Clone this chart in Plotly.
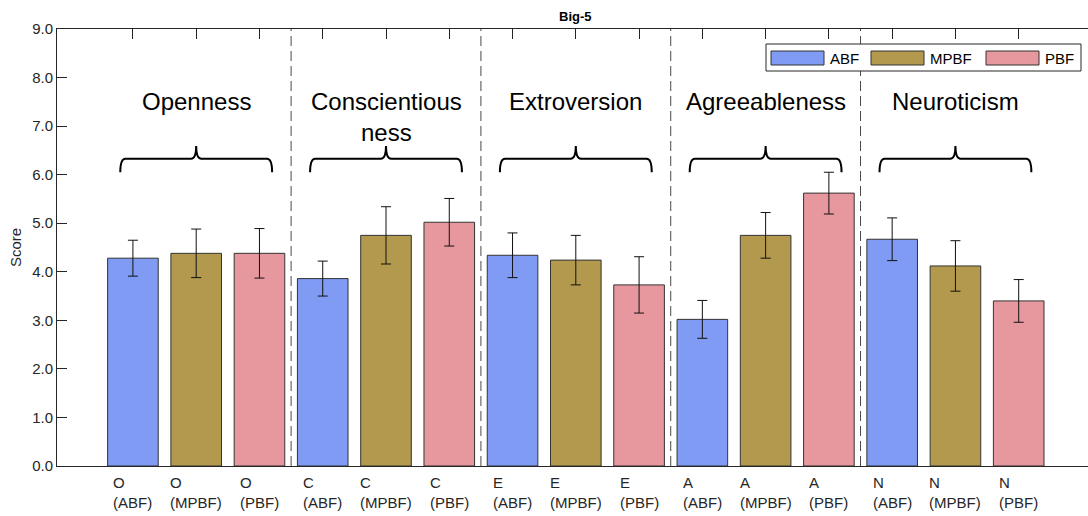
import plotly.graph_objects as go

# ---------------- data ----------------
trait_titles = ["Openness", "Conscientious<br>ness", "Extroversion", "Agreeableness", "Neuroticism"]
trait_codes = ["O", "C", "E", "A", "N"]
conditions = ["ABF", "MPBF", "PBF"]

abf_mean = [4.28, 3.86, 4.34, 3.02, 4.67]
abf_err = [0.37, 0.36, 0.46, 0.39, 0.44]
mpbf_mean = [4.38, 4.75, 4.24, 4.75, 4.12]
mpbf_err = [0.50, 0.59, 0.51, 0.47, 0.52]
pbf_mean = [4.38, 5.02, 3.73, 5.62, 3.40]
pbf_err = [0.51, 0.49, 0.58, 0.43, 0.44]

y_ticks = [0, 1, 2, 3, 4, 5, 6, 7, 8, 9]
y_tick_text = ["0.0", "1.0", "2.0", "3.0", "4.0", "5.0", "6.0", "7.0", "8.0", "9.0"]

# ---------------- styling ----------------
colors = {"ABF": "#7f9bf3", "MPBF": "#b2994d", "PBF": "#e6989e"}
W, H = 1088, 516
ML, MR, MT, MB = 57, 0, 29, 50
PW, PH = W - ML - MR, H - MT - MB
FONT = "Liberation Sans, Arial, Helvetica, sans-serif"
TXT = "#262626"

n_groups = len(trait_codes)
n_cond = len(conditions)
series = {"ABF": (abf_mean, abf_err), "MPBF": (mpbf_mean, mpbf_err), "PBF": (pbf_mean, pbf_err)}

X_MIN = -0.2
UNIT_PX = 63.27
X_MAX = X_MIN + PW / UNIT_PX


def pos(g, c):
    return g * n_cond + c + 1


def px_x(px):
    return (px - ML) / PW


def px_y(py):
    return (H - MB - py) / PH


fig = go.Figure()
for ci, cond in enumerate(conditions):
    m, e = series[cond]
    fig.add_trace(go.Bar(
        x=[pos(g, ci) for g in range(n_groups)],
        y=m,
        width=0.8,
        name=cond,
        marker=dict(color=colors[cond], line=dict(color="#333333", width=1)),
        error_y=dict(type="data", array=e, visible=True, color="#111111",
                     thickness=1, width=5),
        showlegend=False,
    ))

shapes = []
annotations = []

# dashed separators between groups
for g in range(1, n_groups):
    xs = pos(g, 0) - 0.5
    shapes.append(dict(type="line", xref="x", yref="paper", x0=xs, x1=xs, y0=0, y1=1,
                       line=dict(color="#4a4a4a", width=1, dash="10px,5px"), layer="above"))

# braces + group titles
Y_TIP, Y_LINE, Y_PEAK = 6.05, 6.33, 6.59
HALF, R = 1.2, 0.08
for g in range(n_groups):
    xc = pos(g, 1)
    x0, x1 = xc - HALF, xc + HALF
    path = (f"M {x0},{Y_TIP} Q {x0},{Y_LINE} {x0 + R},{Y_LINE} "
            f"L {xc - R},{Y_LINE} Q {xc},{Y_LINE} {xc},{Y_PEAK} "
            f"Q {xc},{Y_LINE} {xc + R},{Y_LINE} "
            f"L {x1 - R},{Y_LINE} Q {x1},{Y_LINE} {x1},{Y_TIP}")
    shapes.append(dict(type="path", xref="x", yref="y", path=path,
                       line=dict(color="black", width=2), layer="above"))
    nlines = trait_titles[g].count("<br>") + 1
    annotations.append(dict(x=xc, y=7.5, xref="x", yref="y", text=trait_titles[g],
                            showarrow=False, yanchor="middle", xanchor="center",
                            yshift=-15 * (nlines - 1),
                            font=dict(size=24, color="black", family=FONT)))

# x category labels (left-aligned two-line labels)
for g in range(n_groups):
    for ci, cond in enumerate(conditions):
        annotations.append(dict(x=pos(g, ci), y=0, xref="x", yref="paper",
                                text=f"{trait_codes[g]}<br>({cond})", align="left",
                                showarrow=False, xanchor="center", yanchor="top", yshift=-6,
                                font=dict(size=15, color=TXT, family=FONT)))

# title
annotations.append(dict(x=(X_MIN + 16.2) / 2, y=1, xref="x", yref="paper", text="<b>Big-5</b>",
                        showarrow=False, xanchor="center", yanchor="bottom", yshift=3,
                        font=dict(size=13, color="black", family=FONT)))

# custom legend box
lg_x0, lg_x1, lg_y0, lg_y1 = 766, 1081, 44, 71
shapes.append(dict(type="rect", xref="paper", yref="paper",
                   x0=px_x(lg_x0), x1=px_x(lg_x1), y0=px_y(lg_y1), y1=px_y(lg_y0),
                   line=dict(color="#262626", width=1), fillcolor="white", layer="above"))
item_starts = [771, 871, 986]
for cond, sx in zip(conditions, item_starts):
    shapes.append(dict(type="rect", xref="paper", yref="paper",
                       x0=px_x(sx), x1=px_x(sx + 53), y0=px_y(65), y1=px_y(51),
                       line=dict(color="#333333", width=1), fillcolor=colors[cond], layer="above"))
    annotations.append(dict(x=px_x(sx + 57), y=px_y(58), xref="paper", yref="paper",
                            text=cond, showarrow=False, xanchor="left", yanchor="middle",
                            font=dict(size=15, color="black", family=FONT)))

fig.update_layout(
    width=W, height=H,
    margin=dict(l=ML, r=MR, t=MT, b=MB, pad=0),
    plot_bgcolor="white", paper_bgcolor="white",
    barmode="overlay",
    showlegend=False,
    font=dict(family=FONT, color=TXT, size=15),
    shapes=shapes,
    annotations=annotations,
    xaxis=dict(range=[X_MIN, X_MAX], tickvals=[pos(g, c) for g in range(n_groups) for c in range(n_cond)],
               ticktext=[""] * (n_groups * n_cond), ticks="inside", ticklen=10, tickcolor=TXT,
               showline=True, linecolor=TXT, linewidth=1, mirror="ticks",
               showgrid=False, zeroline=False, layer="below traces"),
    yaxis=dict(range=[0, 9], tickvals=y_ticks, ticktext=y_tick_text, ticks="inside", ticklen=10,
               tickcolor=TXT, showline=True, linecolor=TXT, linewidth=1, mirror=False,
               showgrid=False, zeroline=False, layer="below traces",
               title=dict(text="Score", font=dict(size=15, color=TXT), standoff=6),
               tickfont=dict(size=15, color=TXT)),
    yaxis2=dict(range=[0, 9], tickvals=y_ticks, overlaying="y", side="right", ticks="inside",
                ticklen=5, tickcolor=TXT, showline=False, showticklabels=False,
                showgrid=False, zeroline=False),
)

fig.write_html("out.html", config={"displayModeBar": False},
               post_script="document.body.style.margin='0';document.body.style.overflow='hidden';")
